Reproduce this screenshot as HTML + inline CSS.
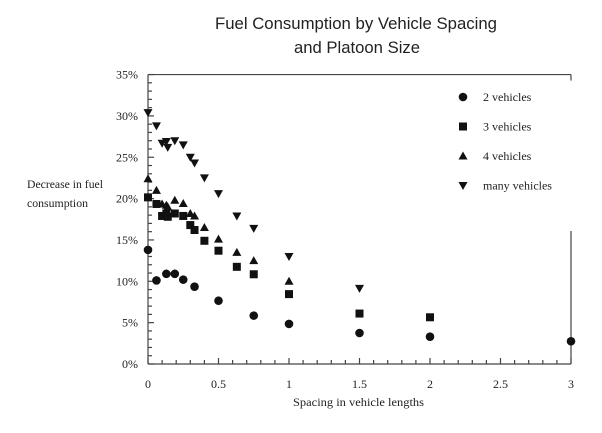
<!DOCTYPE html>
<html><head><meta charset="utf-8"><style>
body{margin:0;background:#fff;}
svg{display:block;}
.t{font-family:"Liberation Serif",serif;font-size:12px;fill:#222;}
</style></head><body>
<svg id="chart" width="602" height="433" viewBox="0 0 602 433" xmlns="http://www.w3.org/2000/svg">
<text x="215" y="29" textLength="282" lengthAdjust="spacingAndGlyphs" style="font-family:'Liberation Sans',sans-serif;font-size:17px;fill:#222">Fuel Consumption by Vehicle Spacing</text>
<text x="294" y="53" textLength="126" lengthAdjust="spacingAndGlyphs" style="font-family:'Liberation Sans',sans-serif;font-size:17px;fill:#222">and Platoon Size</text>
<text class="t" x="27" y="188" textLength="76" lengthAdjust="spacingAndGlyphs">Decrease in fuel</text>
<text class="t" x="27" y="207" textLength="61" lengthAdjust="spacingAndGlyphs">consumption</text>
<text class="t" x="293" y="406" textLength="131" lengthAdjust="spacingAndGlyphs">Spacing in vehicle lengths</text>
<g id="axes"></g>
<g id="marks"></g>
<g id="legend"></g>
</svg>
<script>
const seriesNames=["2 vehicles","3 vehicles","4 vehicles","many vehicles"];
const xTicks=[0,0.5,1,1.5,2,2.5,3];
const yTicks=[0,5,10,15,20,25,30,35];
const x2=[0,0.06,0.13,0.19,0.25,0.33,0.5,0.75,1,1.5,2,3];
const y2=[13.8,10.1,10.9,10.9,10.2,9.35,7.65,5.85,4.85,3.75,3.3,2.75];
const x3=[0,0.06,0.1,0.13,0.14,0.19,0.25,0.3,0.33,0.4,0.5,0.63,0.75,1,1.5,2];
const y3=[20.15,19.35,17.9,18.2,17.8,18.2,17.9,16.8,16.2,14.9,13.7,11.75,10.85,8.45,6.1,5.65];
const x4=[0,0.06,0.1,0.13,0.14,0.19,0.25,0.3,0.33,0.4,0.5,0.63,0.75,1];
const y4=[22.4,21.0,19.35,19.2,19.0,19.8,19.4,18.2,17.9,16.5,15.1,13.5,12.5,10.0];
const xm=[0,0.06,0.1,0.13,0.14,0.19,0.25,0.3,0.33,0.4,0.5,0.63,0.75,1,1.5];
const ym=[30.4,28.8,26.7,26.9,26.2,27.0,26.5,25.0,24.3,22.5,20.6,17.9,16.4,13.0,9.15];

const NS="http://www.w3.org/2000/svg";
const X=v=>148+v*141;
const Y=v=>364-v*8.27;
function mk(tag,attrs,parent){const e=document.createElementNS(NS,tag);for(const k in attrs)e.setAttribute(k,attrs[k]);parent.appendChild(e);return e;}
const axes=document.getElementById('axes'),marks=document.getElementById('marks'),legend=document.getElementById('legend');
const st={stroke:'#444','stroke-width':1.2,fill:'none'};
let l=mk('line',Object.assign({x1:X(0),y1:Y(0),x2:X(3),y2:Y(0)},st),axes);


l=mk('line',Object.assign({x1:X(0),y1:Y(0),x2:X(0),y2:Y(35)},st),axes);


l=mk('line',Object.assign({x1:X(0),y1:Y(35),x2:X(3),y2:Y(35)},st),axes);


l=mk('line',Object.assign({x1:X(3),y1:Y(35),x2:X(3),y2:Y(35)+6},st),axes);


l=mk('line',Object.assign({x1:X(3),y1:231,x2:X(3),y2:Y(0)},st),axes);


for(let i=0;i<=35;i++){const major=i%5===0;
 const t=mk('line',Object.assign({x1:X(0),y1:Y(i),x2:X(0)+(major?6:4),y2:Y(i)},st),axes);
 
 }
for(let i=0;i<=30;i++){const major=i%5===0;
 const t=mk('line',Object.assign({x1:X(i/10),y1:Y(0),x2:X(i/10),y2:Y(0)-(major?6:4)},st),axes);
 
 }
yTicks.forEach(v=>{const t=mk('text',{x:138,y:Y(v)+4,'text-anchor':'end',class:'t'},axes);t.textContent=v+'%';
 
 });
xTicks.forEach(v=>{const t=mk('text',{x:X(v),y:388,'text-anchor':'middle',class:'t'},axes);t.textContent=String(v);
 
 });
function marker(kind,cx,cy,parent){let e;
 if(kind===0)e=mk('circle',{cx:cx,cy:cy,r:4.3,fill:'#111'},parent);
 else if(kind===1)e=mk('rect',{x:cx-4,y:cy-4,width:8,height:8,fill:'#111'},parent);
 else if(kind===2)e=mk('polygon',{points:`${cx},${cy-4.5} ${cx+4.5},${cy+3.5} ${cx-4.5},${cy+3.5}`,fill:'#111'},parent);
 else e=mk('polygon',{points:`${cx-4.5},${cy-3.5} ${cx+4.5},${cy-3.5} ${cx},${cy+4.5}`,fill:'#111'},parent);
 return e;}
const sx=[x2,x3,x4,xm],sy=[y2,y3,y4,ym],sn=['point-2-vehicles','point-3-vehicles','point-4-vehicles','point-many-vehicles'];
sx.forEach((xs,k)=>xs.forEach((xv,i)=>{const e=marker(k,X(xv),Y(sy[k][i]),marks);
 
 }));
seriesNames.forEach((n,k)=>{const yy=97+k*29.5;
 const m=marker(k,463,yy,legend);
 
 
 const t=mk('text',{x:483,y:yy+4,class:'t'},legend);t.textContent=n;
 
 });
</script>
</body></html>
